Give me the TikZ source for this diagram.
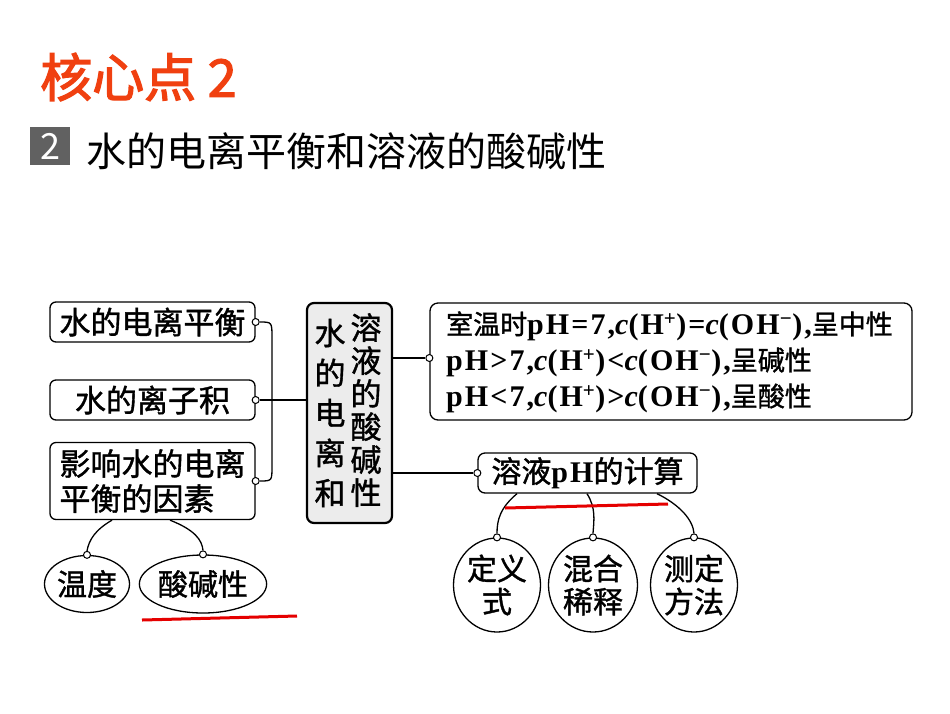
\documentclass[tikz,border=0pt]{standalone}
\usepackage{fontspec}
\setmainfont{Liberation Serif}
\newfontfamily\cjk[FakeBold=1.2]{Noto Sans CJK SC}
\newfontfamily\cjkt[FakeBold=2.5]{Noto Sans CJK SC}
\newfontfamily\cjkplain{Noto Sans CJK SC}
\newfontfamily\lat[LetterSpace=7]{Liberation Serif}
\newcommand\Lt[1]{{\lat\bfseries\fontsize{30}{36}\selectfont #1}}
\newcommand\ci{{\lat\bfseries\itshape\fontsize{30}{36}\selectfont c}}
\usetikzlibrary{shapes.geometric}
\definecolor{titlered}{HTML}{F04010}
\definecolor{boxgray}{HTML}{ECECEC}
\tikzset{
  box/.style={draw, line width=1.3pt, rounded corners=6pt, inner sep=0pt, font=\cjk\fontsize{31}{35}\selectfont},
  knob/.style={draw, line width=1pt, circle, fill=white, inner sep=0pt, minimum size=7pt},
  link/.style={line width=1.3pt},
  oval/.style={draw, line width=1.3pt, ellipse, inner sep=0pt, font=\cjk\fontsize{30}{33}\selectfont, align=center},
  redline/.style={draw=red!90!black, line width=3pt}
}
\begin{document}
\begin{tikzpicture}[x=1pt,y=-1pt]
\path[use as bounding box, fill=white] (0,0) rectangle (950,713);
% titles
\node[anchor=west, text=titlered, font=\cjkt\fontsize{52}{56}\selectfont, inner sep=0pt] (title) at (40,77) {核心点 2};
\node[fill=black!62, text=white, minimum width=40pt, minimum height=38pt, inner sep=0pt, font=\cjkplain\fontsize{36}{40}\selectfont] (num) at (50,146) {2};
\node[anchor=west, font=\cjkplain\fontsize{40}{44}\selectfont, inner sep=0pt] (sub) at (86,151) {水的电离平衡和溶液的酸碱性};
% left boxes
\node[box, minimum width=205pt, minimum height=40pt] (b1) at (152.5,322) {水的电离平衡};
\node[box, minimum width=205pt, minimum height=40pt] (b2) at (152.5,400) {\,水的离子积\,};
\node[box, minimum width=205pt, minimum height=77pt, align=left] (b3) at (152.5,481) {影响水的电离\\平衡的因素};
% central box
\node[draw, line width=2.2pt, fill=boxgray, rounded corners=7pt, minimum width=85pt, minimum height=220pt, inner sep=0pt] (mid) at (349.5,413) {};
\node[font=\cjk\fontsize{31}{40}\selectfont, align=center, inner sep=0pt] (col1) at (330,413) {水\\的\\电\\离\\和};
\node[font=\cjk\fontsize{31}{33}\selectfont, align=center, inner sep=0pt] (col2) at (366,410) {溶\\液\\的\\酸\\碱\\性};
% right box
\node[draw, line width=1.3pt, rounded corners=8pt, minimum width=482pt, minimum height=117pt, inner sep=0pt] (rb) at (671,361.5) {};
\node[anchor=west, align=left, inner sep=0pt, font=\fontsize{27}{36}\selectfont] (rbt) at (446,362) {{\cjk 室温时}\Lt{pH=7,}\ci\Lt{(H\textsuperscript{+})=}\ci\Lt{(OH\textsuperscript{−}),}{\cjk 呈中性}\\\Lt{pH>7,}\ci\Lt{(H\textsuperscript{+})<}\ci\Lt{(OH\textsuperscript{−}),}{\cjk 呈碱性}\\\Lt{pH<7,}\ci\Lt{(H\textsuperscript{+})>}\ci\Lt{(OH\textsuperscript{−}),}{\cjk 呈酸性}};
% pH box
\node[draw, line width=1.3pt, rounded corners=7pt, minimum width=219pt, minimum height=40pt, inner sep=0pt, font=\fontsize{30}{30}\selectfont] (pb) at (587.5,473) {{\cjk 溶液}\Lt{pH}{\cjk 的计算}};
% circles
\node[oval, minimum width=87pt, minimum height=94pt] (c1) at (497,585) {定义\\式};
\node[oval, minimum width=89pt, minimum height=94pt] (c2) at (593,585) {混合\\稀释};
\node[oval, minimum width=87pt, minimum height=94pt] (c3) at (694,585) {测定\\方法};
% bottom-left ovals
\node[oval, minimum width=85pt, minimum height=57pt] (e1) at (87,584) {温度};
\node[oval, minimum width=120pt, minimum height=58pt] (e2) at (203,584) {酸碱性};
% knobs
\node[knob] (k1) at (b1.east) {};
\node[knob] (k2) at (b2.east) {};
\node[knob] (k3) at (b3.east) {};
\node[knob] (k4) at (rb.west |- 0,358) {};
\node[knob] (k5) at (pb.west) {};
\node[knob] (k6) at (c1.north) {};
\node[knob] (k7) at (c2.north) {};
\node[knob] (k8) at (c3.north) {};
\node[knob] (k9) at (e1.north) {};
\node[knob] (k10) at (e2.north) {};
\coordinate (m2) at (mid.west |- k2);
\coordinate (m4) at (mid.east |- k4);
\coordinate (m5) at (mid.east |- k5);
% connectors
\draw[link] (k1.east) .. controls (272,322) .. (272,338) -- (272,466) .. controls (272,481) .. (k3.east);
\draw[link] (k2.east) -- (m2);
\draw[link] (m4) -- (k4.west);
\draw[link] (m5) -- (k5.west);
\draw[link] (pb.south -| 517,0) .. controls (500,508) and (497,520) .. (k6.north);
\draw[link] (pb.south -| 587,0) .. controls (596,508) and (594,520) .. (k7.north);
\draw[link] (pb.south -| 657,0) .. controls (680,505) and (693,520) .. (k8.north);
\draw[link] (b3.south -| 112,0) .. controls (95,530) and (89,540) .. (k9.north);
\draw[link] (b3.south -| 170,0) .. controls (195,530) and (202,540) .. (k10.north);
% red underlines
\draw[redline] (142,620) -- (297,616);
\draw[redline] (505,508) -- (668,504);
\end{tikzpicture}
\end{document}
